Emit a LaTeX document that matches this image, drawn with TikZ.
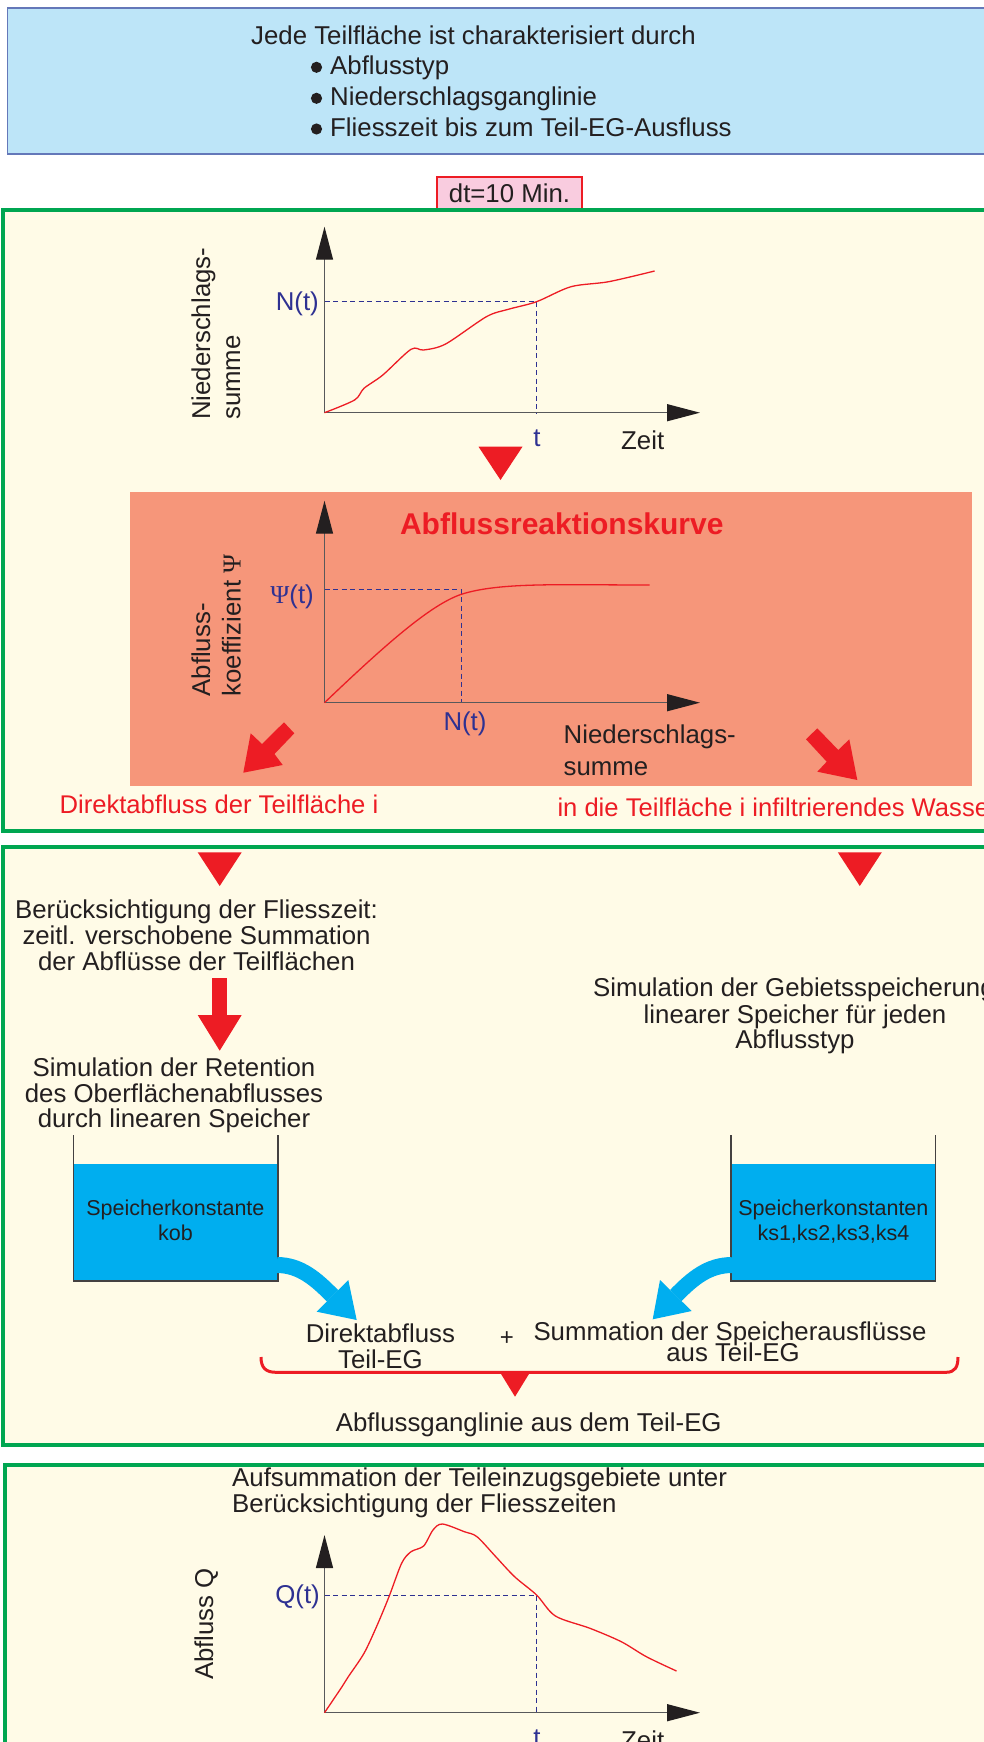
\documentclass[tikz,border=0pt]{standalone}
\usepackage{fontspec}
\setmainfont{Liberation Sans}
\newfontfamily\serifsym{Liberation Serif}
\usetikzlibrary{arrows.meta}
\definecolor{topfill}{RGB}{189,229,248}
\definecolor{topborder}{RGB}{100,120,185}
\definecolor{cream}{RGB}{255,251,231}
\definecolor{panelgreen}{RGB}{0,166,81}
\definecolor{salmon}{RGB}{246,150,122}
\definecolor{redc}{RGB}{237,28,36}
\definecolor{pinkc}{RGB}{249,204,223}
\definecolor{cyanc}{RGB}{0,174,239}
\definecolor{textdark}{RGB}{35,31,32}
\definecolor{bluetext}{RGB}{46,49,146}
\definecolor{axisgray}{RGB}{88,89,91}
\begin{document}
\begin{tikzpicture}[x=1pt,y=-1pt,
  txt/.style={inner sep=0pt, text=textdark, font=\fontsize{25.8}{26}\selectfont},
  smalltxt/.style={inner sep=0pt, text=textdark, font=\fontsize{21.5}{24}\selectfont},
  bluetxt/.style={inner sep=0pt, text=bluetext, font=\fontsize{25.8}{26}\selectfont},
  redtxt/.style={inner sep=0pt, text=redc, font=\fontsize{25.6}{26}\selectfont},
  titlered/.style={inner sep=0pt, text=redc, font=\fontsize{30}{32}\selectfont\bfseries},
  panel/.style={draw=panelgreen, fill=cream, line width=4pt},
  axisline/.style={draw=axisgray, line width=1.3pt, -{Triangle[length=33pt,width=17pt,color=textdark]}},
  curve/.style={draw=redc, line width=1.3pt},
  dashblue/.style={draw=bluetext, line width=1.1pt, dash pattern=on 5pt off 3.5pt},
  redfill/.style={fill=redc},
  cyanarrow/.style={draw=cyanc, line width=16pt},
  tankwall/.style={draw=textdark!85, line width=1.2pt}
]
\useasboundingbox (0,0) rectangle (984,1742);
\clip (0,0) rectangle (984,1742);

% ---------- top box ----------
\draw[fill=topfill, draw=topborder, line width=1.5pt] (7.5,8) rectangle (1000,154);
\node[txt, anchor=base west] (head) at (251,44.3) {Jede Teilfläche ist charakterisiert durch};
\node[txt, anchor=base west] (b1) at (330,75) {Abflusstyp};
\node[txt, anchor=base west] (b2) at (330,106) {Niederschlagsganglinie};
\node[txt, anchor=base west] (b3) at (330,136.7) {Fliesszeit bis zum Teil-EG-Ausfluss};
\fill[textdark] (316.5,67.3) circle (5.6);
\fill[textdark] (316.5,98.3) circle (5.6);
\fill[textdark] (316.5,129) circle (5.6);

% ---------- dt box ----------
\node[draw=redc, fill=pinkc, line width=1.5pt, minimum width=145pt, minimum height=33pt, inner sep=0pt,
      text=textdark, font=\fontsize{25.8}{26}\selectfont] (dt) at (509.5,193.5) {dt=10 Min.};

% ---------- panels ----------
\draw[panel] (2.5,210) rectangle (1000,831);
\draw[panel] (2.5,847) rectangle (1000,1445);
\draw[panel] (5,1465) rectangle (1000,1770);

% ---------- chart 1 ----------
\draw[dashblue] (324.5,301.7) -- (536.6,301.7) -- (536.6,412.7);
\draw[axisline] (324.5,412.7) -- (324.5,226.7);
\draw[axisline] (324.5,412.7) -- (700,412.7);
\draw[curve] plot[smooth, tension=0.5] coordinates {(324.5,412.7) (354.6,400) (364,388.3) (382.8,375) (411,349.3) (423.6,350) (445.6,344) (486.4,316.7) (508.3,309.3) (536.6,301.7) (571,286.7) (608.7,281.7) (654.6,271)};
\node[bluetxt, anchor=base east] (nt1) at (319,310) {N(t)};
\node[bluetxt, anchor=base] (t1) at (537,446.7) {t};
\node[txt, anchor=base west] (zeit1) at (621,449.3) {Zeit};
\node[txt, rotate=90, anchor=base west] (yl1a) at (210,420) {Niederschlags-};
\node[txt, rotate=90, anchor=base west] (yl1b) at (240,420) {summe};
\fill[redfill] (478.5,446.7) -- (522.5,446.7) -- (500.5,480) -- cycle;

% ---------- chart 2 ----------
\fill[salmon] (130,492.3) rectangle (971.5,785.7);
\draw[dashblue] (324.5,589.3) -- (461.3,589.3) -- (461.3,702.7);
\draw[axisline] (324.5,702.7) -- (324.5,500.7);
\draw[axisline] (324.5,702.7) -- (700,702.7);
\draw[curve] (324.5,702.7) .. controls (385,645) and (430,605) .. (461.3,594.3)
   .. controls (500,582) and (560,585) .. (649.5,585);
\node[titlered, anchor=base] (title) at (561.8,534.3) {Abflussreaktionskurve};
\node[bluetxt, anchor=base east] (psi) at (314,603.3) {{\serifsym Ψ}(t)};
\node[bluetxt, anchor=base] (nt2) at (465,730.7) {N(t)};
\node[txt, anchor=base west] (ns2a) at (563.5,743.3) {Niederschlags-};
\node[txt, anchor=base west] (ns2b) at (563.5,775) {summe};
\node[txt, rotate=90, anchor=base west] (yl2a) at (210,696.7) {Abfluss-};
\node[txt, rotate=90, anchor=base west] (yl2b) at (240.5,696.7) {koeffizient {\serifsym Ψ}};
\fill[redfill] (284,722.3) -- (294.3,733.3) -- (274.5,754) -- (282.7,765) -- (243.3,772.7) -- (250.7,733.3) -- (262,744) -- cycle;
\fill[redfill] (817.3,728.3) -- (838.3,750) -- (849.3,739.3) -- (857.3,780) -- (817.3,771.7) -- (826.7,761.7) -- (806,739.3) -- cycle;
\node[redtxt, anchor=base west] (direkt) at (59.4,813.8) {Direktabfluss der Teilfläche i};
\node[redtxt, anchor=base west] (infil) at (557.3,816.7) {in die Teilfläche i infiltrierendes Wasser};

% ---------- panel 2 ----------
\fill[redfill] (197.7,852.3) -- (241.7,852.3) -- (219.7,886) -- cycle;
\fill[redfill] (837.8,852.3) -- (881.8,852.3) -- (859.8,886) -- cycle;
\node[txt, anchor=base] (ber1) at (196.5,918.3) {Berücksichtigung der Fliesszeit:};
\node[txt, anchor=base] (ber2) at (196.5,944) {zeitl. verschobene Summation};
\node[txt, anchor=base] (ber3) at (196.5,970) {der Abflüsse der Teilflächen};
\fill[redfill] (212,978) rectangle (227,1016);
\fill[redfill] (197.7,1015) -- (241.7,1015) -- (219.7,1050.7) -- cycle;
\node[txt, anchor=base] (sim1) at (174,1076.7) {Simulation der Retention};
\node[txt, anchor=base] (sim2) at (174,1102.3) {des Oberflächenabflusses};
\node[txt, anchor=base] (sim3) at (174,1127.7) {durch linearen Speicher};
\node[txt, anchor=base west] (geb1) at (593,996.7) {Simulation der Gebietsspeicherung};
\node[txt, anchor=base] (geb2) at (795,1023.3) {linearer Speicher für jeden};
\node[txt, anchor=base] (geb3) at (795,1048.3) {Abflusstyp};

% tanks
\fill[cyanc] (73.4,1164) rectangle (278,1281);
\draw[tankwall] (73.4,1135) -- (73.4,1281) -- (278,1281) -- (278,1135);
\fill[cyanc] (731,1164) rectangle (935.7,1281);
\draw[tankwall] (731,1135) -- (731,1281) -- (935.7,1281) -- (935.7,1135);
\node[smalltxt, anchor=base] (sk1) at (175.4,1215) {Speicherkonstante};
\node[smalltxt, anchor=base] (sk2) at (175.4,1240.7) {kob};
\node[smalltxt, anchor=base] (sk3) at (833.4,1215) {Speicherkonstanten};
\node[smalltxt, anchor=base] (sk4) at (833.4,1240.7) {ks1,ks2,ks3,ks4};

% blue arrows
\draw[cyanarrow] (277,1265) .. controls (300,1265) and (316,1279) .. (332.5,1295.8);
\fill[cyanc] (348.3,1280) -- (356.7,1320) -- (316.7,1311.7) -- cycle;
\draw[cyanarrow] (732,1265) .. controls (708,1265) and (692,1279) .. (675.8,1295.5);
\fill[cyanc] (660,1280) -- (652.7,1319.3) -- (691.7,1311) -- cycle;

\node[txt, anchor=base] (da1) at (380.4,1342.3) {Direktabfluss};
\node[txt, anchor=base] (da2) at (380.4,1368.3) {Teil-EG};
\node[inner sep=0pt, text=textdark, font=\fontsize{24}{26}\selectfont] (plus) at (507,1339) {+};
\node[txt, anchor=base] (sum1) at (730,1340.7) {Summation der Speicherausflüsse};
\node[txt, anchor=base] (sum2) at (733,1361.7) {aus Teil-EG};

% brace
\draw[draw=redc, line width=3pt] (261,1357) .. controls (261,1368) and (266,1372.3) .. (276,1372.3)
   -- (946,1372.3) .. controls (955,1372.3) and (958,1367) .. (958,1357);
\fill[redfill] (500,1372.3) -- (530,1372.3) -- (515,1396.7) -- cycle;
\node[txt, anchor=base] (agl) at (528.7,1431.7) {Abflussganglinie aus dem Teil-EG};

% ---------- panel 3 ----------
\node[txt, anchor=base west] (auf1) at (232,1486.7) {Aufsummation der Teileinzugsgebiete unter};
\node[txt, anchor=base west] (auf2) at (232,1512.7) {Berücksichtigung der Fliesszeiten};
\draw[dashblue] (324.5,1595.7) -- (536.6,1595.7) -- (536.6,1712.7);
\draw[axisline] (324.5,1712.7) -- (324.5,1535);
\draw[axisline] (324.5,1712.7) -- (700,1712.7);
\draw[curve] plot[smooth, tension=0.5] coordinates {(324.5,1712.7) (342,1686.7) (348.3,1676.7) (364,1653.3) (376.5,1626.7) (389,1596.7) (401.6,1563.3) (411,1551.7) (423.6,1546) (433,1530) (442.4,1524) (464.4,1531.7) (477,1536.7) (495.8,1556.7) (514.6,1576.7) (536.6,1595) (555.4,1616) (590,1628.3) (621.3,1641.7) (646.4,1656.7) (676.5,1671)};
\node[bluetxt, anchor=base east] (qt) at (320,1603.3) {Q(t)};
\node[bluetxt, anchor=base] (t3) at (537,1746.7) {t};
\node[txt, anchor=base west] (zeit3) at (621,1749.3) {Zeit};
\node[txt, rotate=90, anchor=base west] (yl3) at (213,1680) {Abfluss Q};
\end{tikzpicture}
\end{document}
